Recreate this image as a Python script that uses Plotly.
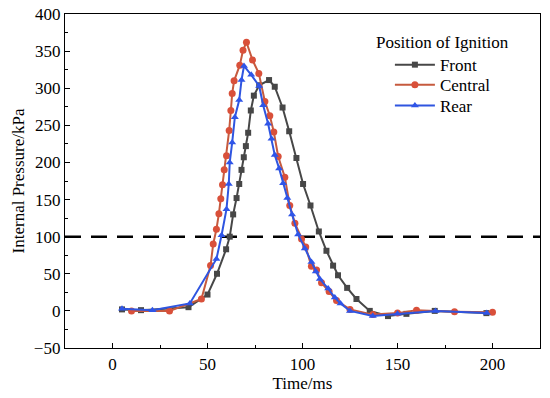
import plotly.graph_objects as go

# ---- data ----
front_t = [5, 15, 40, 50, 55, 59.8, 61.7, 63.5, 65.3, 66.7, 67.9, 69.1, 70.2, 71.4, 72.8, 74.4, 77.2,
           82.4, 85.4, 89.5, 93, 96.8, 100.3, 104.2, 108.6, 112.6, 116.1, 118.7, 123.5, 128.4,
           135.4, 145, 154.7, 169.6, 196.8]
front_p = [2, 1, 5, 22, 50, 83, 100, 130, 152, 171, 190, 207, 222, 240, 270, 290, 304,
           311, 302, 274, 242, 206, 171, 142, 107, 81, 61, 48, 31, 16,
           0, -7, -4, 0, -3]

central_t = [10, 30, 46.8, 51.6, 53, 54.7, 56, 57, 57.9, 58.8, 60, 61.4, 62.3, 63, 64, 67, 68.7, 70.5,
             73.7, 77, 80.2, 82.8, 84.9, 87.2, 90.7, 93.3, 96, 99.5, 101.7, 104.7, 107.4, 110, 114,
             117.9, 125, 137, 150, 160, 180, 200]
central_p = [0, 0, 16, 61, 90, 110, 131, 151, 170, 190, 209, 243, 270, 293, 310, 331, 351, 362,
             338, 320, 282, 263, 241, 208, 180, 142, 118, 97, 86, 60, 55, 38, 26,
             14, 2, -5, -3, 1, -1, -2]

rear_t = [5, 21, 40.7, 54.7, 57.4, 60, 61.2, 61.7, 63, 64.4, 66.7, 67.9, 69.2,
          73, 77.2, 79.3, 81.9, 83.7, 85.4, 87.7, 89.8, 92, 94.5, 97.7, 101.2, 104.7, 107, 109.1,
          113.5, 117, 120, 125, 137, 150, 170, 197]
rear_p = [3, 1, 10, 70, 102, 137, 171, 200, 227, 261, 284, 311, 330,
          318, 303, 277, 252, 232, 210, 192, 172, 152, 130, 103, 84, 66, 53, 43,
          30, 18, 10, 0, -7, -4, 0, -3]

ref_line = 100
x_range = [-25, 225]
y_range = [-50, 400]

font_family = "Liberation Serif, Times New Roman, serif"
FS = 17

fig = go.Figure()

fig.add_trace(go.Scatter(
    x=x_range, y=[ref_line, ref_line], mode="lines",
    line=dict(color="black", width=2.5, dash="16px,10px"),
    showlegend=False, hoverinfo="skip"))

fig.add_trace(go.Scatter(
    x=front_t, y=front_p, name="Front", mode="lines+markers", legend="legend",
    line=dict(color="#474747", width=2),
    marker=dict(symbol="square", size=6, color="#474747")))
fig.add_trace(go.Scatter(
    x=central_t, y=central_p, name="Central", mode="lines+markers", legend="legend2",
    line=dict(color="#c65a3e", width=2),
    marker=dict(symbol="circle", size=7, color="#d9503a")))
fig.add_trace(go.Scatter(
    x=rear_t, y=rear_p, name="Rear", mode="lines+markers", legend="legend3",
    line=dict(color="#2f55e0", width=2),
    marker=dict(symbol="triangle-up", size=7, color="#2f55e8")))

axis_common = dict(
    showline=True, linecolor="black", linewidth=1.3, mirror=True,
    ticks="inside", ticklen=5, tickwidth=1.2, tickcolor="black",
    showgrid=False, zeroline=False, automargin=False, ticklabeloverflow="allow",
    tickfont=dict(family=font_family, size=FS, color="black"),
)

fig.update_xaxes(range=x_range, dtick=50, tick0=0,
                 minor=dict(ticks="inside", ticklen=3, dtick=25, tick0=0, tickcolor="black"),
                 title=dict(text="Time/ms", font=dict(family=font_family, size=FS, color="black"),
                            standoff=0),
                 **axis_common)
fig.update_yaxes(range=y_range, dtick=50, tick0=0,
                 minor=dict(ticks="inside", ticklen=3, dtick=25, tick0=0, tickcolor="black"),
                 title=dict(text="Internal Pressure/kPa", font=dict(family=font_family, size=FS, color="black"),
                            standoff=4),
                 **axis_common)

fig.add_annotation(text="Position of Ignition", xref="paper", yref="paper",
                   x=0.65, y=0.915, xanchor="left", yanchor="middle", showarrow=False,
                   font=dict(family=font_family, size=FS, color="black"))

leg = dict(x=0.684, xanchor="left", yanchor="middle", bgcolor="rgba(0,0,0,0)",
           font=dict(family=font_family, size=FS, color="black"), itemwidth=40)

fig.update_layout(
    width=550, height=398,
    margin=dict(l=65, r=10, t=14, b=50),
    paper_bgcolor="white", plot_bgcolor="white",
    font=dict(family=font_family, color="black"),
    legend=dict(y=0.847, **leg),
    legend2=dict(y=0.787, **leg),
    legend3=dict(y=0.725, **leg),
)

# remove the default 8px page margin so the 550x398 figure fills the window exactly
fig.write_html("out.html",
               config={"displayModeBar": False},
               post_script="document.body.style.margin='0px';document.body.style.overflow='hidden';")
